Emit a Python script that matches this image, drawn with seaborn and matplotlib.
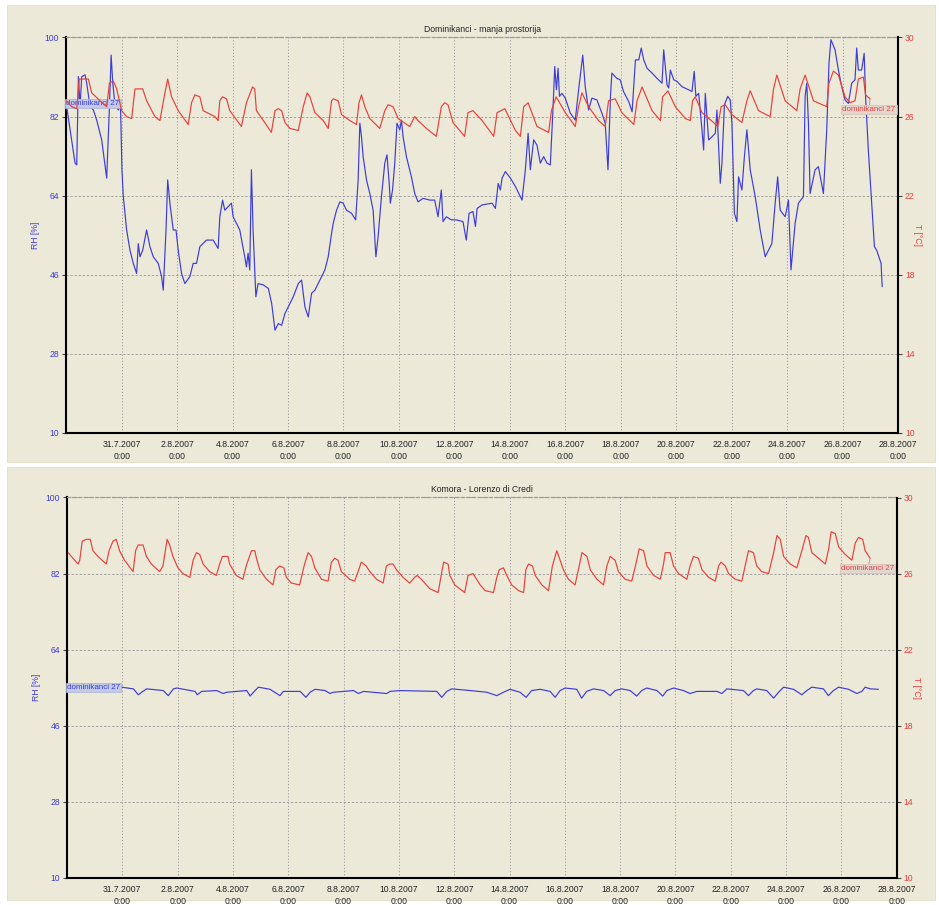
import pandas as pd
import matplotlib
matplotlib.use("Agg")
import matplotlib.pyplot as plt
from matplotlib.patches import Rectangle
import seaborn as sns

# ---------------------------------------------------------------------------
# Logger data: time in days since 29.7.2007 0:00, RH in %, T in degC
# ---------------------------------------------------------------------------
START = pd.Timestamp("2007-07-29")
END = pd.Timestamp("2007-08-28")

# Dominikanci - manja prostorija
top_rh_day = [
    0.00, 0.14, 0.32, 0.38, 0.44, 0.50, 0.56, 0.68, 0.74, 0.86,
    0.98, 1.10, 1.28, 1.46, 1.56, 1.62, 1.68, 1.76, 1.88, 1.96,
    2.01, 2.06, 2.18, 2.30, 2.42, 2.54, 2.60, 2.66, 2.76, 2.90,
    3.02, 3.14, 3.32, 3.44, 3.50, 3.60, 3.66, 3.74, 3.86, 3.96,
    4.04, 4.16, 4.28, 4.46, 4.58, 4.70, 4.82, 5.06, 5.30, 5.48,
    5.54, 5.64, 5.72, 5.84, 5.96, 6.02, 6.14, 6.26, 6.44, 6.50,
    6.56, 6.62, 6.68, 6.74, 6.84, 6.92, 7.11, 7.29, 7.41, 7.53,
    7.65, 7.77, 7.89, 8.07, 8.19, 8.37, 8.49, 8.61, 8.73, 8.85,
    8.97, 9.15, 9.33, 9.45, 9.57, 9.63, 9.75, 9.87, 9.99, 10.11,
    10.29, 10.44, 10.53, 10.59, 10.65, 10.71, 10.83, 10.95, 11.07, 11.17,
    11.25, 11.37, 11.49, 11.57, 11.65, 11.69, 11.77, 11.85, 11.93, 12.03,
    12.09, 12.15, 12.27, 12.45, 12.57, 12.69, 12.87, 13.11, 13.29, 13.41,
    13.53, 13.59, 13.71, 13.89, 14.07, 14.31, 14.43, 14.53, 14.67, 14.76,
    14.82, 15.00, 15.36, 15.48, 15.58, 15.66, 15.72, 15.84, 16.02, 16.20,
    16.44, 16.56, 16.66, 16.74, 16.86, 16.98, 17.10, 17.22, 17.34, 17.46,
    17.55, 17.62, 17.68, 17.74, 17.79, 17.88, 18.00, 18.18, 18.36, 18.48,
    18.63, 18.72, 18.84, 18.96, 19.14, 19.32, 19.44, 19.54, 19.63, 19.68,
    19.86, 19.98, 20.10, 20.29, 20.41, 20.53, 20.65, 20.74, 20.83, 20.95,
    21.13, 21.31, 21.49, 21.55, 21.67, 21.73, 21.79, 21.91, 22.03, 22.21,
    22.45, 22.57, 22.65, 22.71, 22.81, 22.93, 22.99, 23.05, 23.17, 23.29,
    23.41, 23.47, 23.59, 23.65, 23.74, 23.86, 23.95, 24.01, 24.10, 24.19,
    24.25, 24.37, 24.46, 24.55, 24.67, 24.85, 25.03, 25.21, 25.33, 25.45,
    25.57, 25.66, 25.75, 25.93, 26.05, 26.14, 26.29, 26.41, 26.59, 26.65,
    26.71, 26.77, 26.83, 27.01, 27.13, 27.31, 27.43, 27.51, 27.58, 27.73,
    27.85, 27.97, 28.09, 28.21, 28.33, 28.45, 28.51, 28.57, 28.69, 28.78,
    28.83, 28.93, 29.05, 29.15, 29.23, 29.31, 29.39, 29.43,
]
top_rh = [
    85.0, 79.0, 71.4, 71.0, 91.1, 84.3, 91.1, 91.5, 89.6, 84.3,
    83.5, 81.2, 76.7, 68.0, 84.3, 96.0, 89.6, 84.7, 83.5, 84.3,
    69.9, 63.8, 56.2, 51.6, 48.6, 46.3, 53.1, 50.1, 51.6, 56.2,
    52.4, 50.1, 48.6, 45.6, 42.5, 56.2, 67.6, 62.3, 56.2, 56.2,
    51.6, 46.3, 44.0, 45.6, 48.6, 48.6, 52.4, 53.9, 53.9, 52.0,
    59.2, 63.0, 60.7, 61.5, 62.3, 59.2, 57.7, 56.2, 50.1, 47.8,
    50.9, 47.1, 69.9, 56.2, 41.0, 44.0, 43.7, 42.9, 39.5, 33.4,
    34.9, 34.5, 37.2, 39.5, 41.0, 44.0, 44.8, 38.7, 36.4, 41.8,
    42.5, 44.8, 47.1, 50.1, 55.4, 57.7, 60.7, 62.6, 62.3, 60.7,
    60.0, 58.5, 67.6, 80.5, 77.4, 72.9, 67.6, 64.5, 60.7, 50.1,
    54.7, 63.8, 71.4, 73.3, 66.8, 62.3, 65.3, 71.4, 80.5, 79.0,
    81.2, 77.4, 72.9, 68.3, 64.5, 62.6, 63.4, 63.0, 63.0, 59.2,
    65.3, 58.1, 59.2, 58.5, 58.5, 58.1, 53.9, 60.0, 60.4, 57.0,
    61.1, 61.9, 62.3, 61.1, 66.8, 65.3, 68.0, 69.5, 68.0, 66.1,
    63.0, 69.9, 78.2, 69.9, 76.7, 75.5, 71.4, 72.9, 71.4, 71.0,
    82.8, 93.4, 88.1, 93.0, 86.6, 87.3, 86.2, 82.8, 81.2, 88.1,
    96.0, 88.8, 83.5, 86.2, 85.8, 82.8, 80.5, 69.9, 86.6, 91.9,
    90.7, 90.4, 87.7, 85.4, 83.1, 94.9, 94.9, 97.6, 94.9, 93.0,
    91.9, 90.7, 89.6, 97.2, 89.2, 88.5, 92.6, 90.4, 90.0, 88.8,
    88.1, 87.7, 92.3, 86.6, 87.3, 79.0, 74.4, 87.3, 76.7, 77.4,
    78.2, 83.5, 66.8, 71.4, 84.7, 86.6, 85.8, 80.5, 60.0, 58.1,
    68.3, 65.3, 72.9, 79.0, 69.9, 63.8, 56.2, 50.1, 51.6, 53.1,
    62.3, 68.3, 60.7, 59.2, 63.0, 47.1, 57.7, 62.3, 63.8, 86.6,
    89.6, 80.5, 64.5, 69.9, 70.6, 64.5, 79.0, 94.1, 99.5, 97.2,
    92.6, 88.8, 85.8, 85.0, 89.6, 90.4, 97.6, 92.6, 92.6, 96.4,
    86.6, 74.4, 62.3, 52.4, 51.6, 50.1, 48.6, 43.3,
]
top_t_day = [
    0.00, 0.20, 0.38, 0.47, 0.62, 0.80, 0.92, 1.22, 1.46, 1.56,
    1.70, 1.82, 2.00, 2.18, 2.36, 2.48, 2.76, 2.90, 3.20, 3.38,
    3.56, 3.66, 3.80, 4.04, 4.40, 4.52, 4.64, 4.82, 4.94, 5.36,
    5.48, 5.54, 5.64, 5.78, 5.90, 6.32, 6.50, 6.72, 6.80, 6.86,
    7.16, 7.40, 7.53, 7.65, 7.77, 7.89, 8.07, 8.37, 8.55, 8.69,
    8.79, 8.97, 9.27, 9.45, 9.57, 9.63, 9.81, 9.93, 10.23, 10.47,
    10.56, 10.65, 10.77, 10.95, 11.31, 11.49, 11.61, 11.79, 11.97, 12.39,
    12.57, 12.69, 12.99, 13.35, 13.53, 13.65, 13.77, 13.95, 14.19, 14.37,
    14.49, 14.67, 15.00, 15.42, 15.54, 15.82, 16.20, 16.38, 16.50, 16.66,
    16.98, 17.40, 17.50, 17.67, 18.00, 18.36, 18.48, 18.60, 18.84, 19.20,
    19.44, 19.56, 19.80, 20.04, 20.47, 20.59, 20.77, 21.13, 21.43, 21.51,
    21.70, 21.97, 22.33, 22.51, 22.59, 22.69, 22.93, 23.35, 23.50, 23.62,
    23.77, 24.01, 24.37, 24.55, 24.67, 24.97, 25.39, 25.51, 25.63, 25.93,
    26.35, 26.47, 26.65, 26.95, 27.43, 27.51, 27.67, 27.85, 28.09, 28.27,
    28.45, 28.57, 28.75, 28.83, 28.99,
]
top_t = [
    26.8, 26.5, 26.4, 27.9, 27.9, 27.9, 27.2, 26.8, 26.5, 27.7,
    27.8, 27.4, 26.3, 26.0, 25.9, 27.4, 27.4, 26.8, 26.0, 25.8,
    27.2, 27.9, 27.0, 26.3, 25.6, 26.7, 27.1, 27.0, 26.3, 26.0,
    25.8, 26.8, 27.0, 26.9, 26.3, 25.5, 26.7, 27.5, 27.4, 26.3,
    25.7, 25.2, 26.3, 26.4, 26.3, 25.7, 25.4, 25.3, 26.5, 27.2,
    27.0, 26.2, 25.8, 25.4, 26.8, 26.9, 26.8, 26.1, 25.8, 25.6,
    26.7, 27.1, 26.5, 25.9, 25.4, 26.3, 26.6, 26.5, 25.9, 25.5,
    26.0, 25.8, 25.4, 25.0, 26.5, 26.7, 26.6, 25.7, 25.3, 25.0,
    26.2, 26.3, 25.8, 25.0, 26.2, 26.4, 25.3, 25.0, 26.5, 26.7,
    25.5, 25.2, 26.3, 27.0, 26.2, 25.5, 26.5, 27.2, 26.5, 25.8,
    25.5, 26.8, 26.9, 26.2, 25.6, 26.8, 27.5, 26.3, 25.8, 27.0,
    27.3, 26.5, 25.9, 25.8, 26.8, 27.0, 26.2, 25.7, 25.5, 26.5,
    26.6, 26.1, 25.7, 26.8, 27.3, 26.3, 26.0, 27.4, 28.1, 26.8,
    26.3, 27.4, 28.1, 26.8, 26.5, 27.7, 28.3, 28.1, 27.0, 26.7,
    26.8, 27.9, 28.0, 27.1, 26.9,
]

# Komora - Lorenzo di Credi
bot_rh_day = [
    0.00, 1.98, 2.40, 2.58, 2.70, 2.88, 3.48, 3.66, 3.85, 3.97,
    4.63, 4.71, 4.87, 5.41, 5.65, 5.77, 6.50, 6.62, 6.80, 6.92,
    7.34, 7.70, 7.82, 8.43, 8.64, 8.79, 8.97, 9.33, 9.51, 9.63,
    10.36, 10.54, 10.72, 11.56, 11.68, 12.04, 13.37, 13.55, 13.73, 13.91,
    14.58, 15.18, 15.54, 15.78, 16.02, 16.38, 16.60, 16.80, 17.11, 17.47,
    17.65, 17.83, 18.01, 18.43, 18.61, 18.79, 19.04, 19.40, 19.64, 19.82,
    20.06, 20.36, 20.60, 20.78, 20.96, 21.33, 21.54, 21.69, 21.93, 22.29,
    22.53, 22.77, 23.50, 23.68, 23.86, 24.46, 24.64, 24.82, 24.94, 25.30,
    25.55, 25.73, 25.91, 26.27, 26.57, 26.75, 26.93, 27.35, 27.53, 27.71,
    27.90, 28.26, 28.56, 28.74, 28.86, 29.04, 29.34,
]
bot_rh = [
    55.0, 55.1, 54.7, 53.3, 53.9, 54.7, 54.3, 53.1, 54.7, 54.9,
    54.1, 53.3, 54.1, 54.3, 53.6, 53.9, 54.3, 53.0, 54.3, 55.1,
    54.6, 53.1, 54.1, 54.1, 52.7, 53.9, 54.6, 54.3, 53.6, 53.9,
    54.3, 53.6, 54.1, 53.6, 54.1, 54.3, 54.1, 52.7, 54.1, 54.7,
    54.3, 53.9, 53.1, 53.9, 54.6, 53.9, 52.7, 54.3, 54.6, 54.1,
    52.7, 54.3, 54.9, 54.6, 52.5, 54.1, 54.7, 54.3, 53.1, 54.3,
    54.7, 54.3, 53.0, 54.3, 54.9, 54.3, 53.0, 54.3, 54.9, 54.3,
    53.6, 54.1, 54.1, 53.6, 54.7, 54.3, 53.1, 54.3, 54.7, 54.3,
    52.5, 53.9, 55.1, 54.6, 53.3, 54.3, 55.1, 54.7, 53.1, 54.3,
    55.1, 54.6, 53.6, 54.1, 55.1, 54.7, 54.6,
]
bot_t_day = [
    0.04, 0.22, 0.40, 0.46, 0.55, 0.70, 0.84, 0.94, 1.12, 1.42,
    1.52, 1.66, 1.78, 1.90, 2.08, 2.39, 2.48, 2.57, 2.75, 2.87,
    3.05, 3.35, 3.47, 3.62, 3.71, 3.83, 4.01, 4.19, 4.44, 4.56,
    4.68, 4.80, 4.92, 5.16, 5.40, 5.52, 5.62, 5.82, 5.88, 6.12,
    6.36, 6.48, 6.67, 6.79, 6.85, 6.97, 7.21, 7.45, 7.55, 7.69,
    7.84, 7.93, 8.11, 8.41, 8.59, 8.72, 8.84, 8.96, 9.20, 9.44,
    9.56, 9.68, 9.80, 9.92, 10.22, 10.40, 10.55, 10.64, 10.82, 10.95,
    11.19, 11.43, 11.55, 11.67, 11.79, 11.91, 12.15, 12.39, 12.57, 12.66,
    12.81, 13.12, 13.42, 13.54, 13.62, 13.78, 13.84, 14.02, 14.20, 14.38,
    14.50, 14.68, 14.94, 15.12, 15.42, 15.54, 15.63, 15.78, 15.90, 16.08,
    16.33, 16.51, 16.59, 16.69, 16.83, 16.93, 17.17, 17.41, 17.55, 17.71,
    17.83, 17.95, 18.13, 18.37, 18.52, 18.62, 18.80, 18.92, 19.16, 19.40,
    19.52, 19.64, 19.82, 19.94, 20.18, 20.42, 20.57, 20.69, 20.85, 20.97,
    21.21, 21.45, 21.57, 21.63, 21.81, 21.93, 22.11, 22.41, 22.53, 22.65,
    22.83, 22.96, 23.20, 23.44, 23.56, 23.65, 23.80, 23.92, 24.16, 24.40,
    24.52, 24.64, 24.82, 24.94, 25.12, 25.37, 25.55, 25.67, 25.79, 25.91,
    26.15, 26.39, 26.57, 26.72, 26.81, 26.93, 27.18, 27.42, 27.54, 27.63,
    27.78, 27.90, 28.14, 28.38, 28.50, 28.62, 28.77, 28.86, 29.04,
]
bot_t = [
    27.1, 26.8, 26.5, 26.7, 27.7, 27.8, 27.8, 27.2, 26.9, 26.5,
    27.2, 27.7, 27.8, 27.2, 26.7, 26.1, 27.2, 27.5, 27.5, 26.9,
    26.5, 26.1, 26.4, 27.8, 27.5, 26.9, 26.3, 26.0, 25.8, 26.7,
    27.1, 27.0, 26.5, 26.1, 25.9, 26.5, 26.9, 26.9, 26.5, 25.9,
    25.7, 26.4, 27.2, 27.2, 26.8, 26.2, 25.7, 25.4, 26.2, 26.4,
    26.3, 25.8, 25.5, 25.4, 26.5, 27.1, 26.9, 26.3, 25.7, 25.6,
    26.6, 26.8, 26.7, 26.1, 25.7, 25.6, 26.2, 26.6, 26.4, 26.1,
    25.7, 25.5, 26.4, 26.5, 26.5, 26.2, 25.8, 25.5, 25.8, 25.9,
    25.7, 25.2, 25.0, 26.0, 26.6, 26.5, 25.9, 25.4, 25.2, 25.0,
    25.9, 26.0, 25.4, 25.1, 25.0, 25.8, 26.2, 26.3, 25.9, 25.4,
    25.1, 25.0, 26.2, 26.5, 26.4, 25.9, 25.4, 25.1, 26.4, 27.2,
    26.7, 26.2, 25.7, 25.4, 26.4, 27.1, 26.9, 26.2, 25.7, 25.4,
    26.4, 26.9, 26.7, 26.1, 25.7, 25.6, 26.5, 27.3, 27.2, 26.4,
    25.9, 25.7, 26.5, 27.1, 27.1, 26.4, 26.0, 25.7, 26.4, 26.9,
    26.8, 26.2, 25.8, 25.6, 26.4, 26.6, 26.4, 26.0, 25.7, 25.6,
    26.4, 27.2, 27.1, 26.4, 26.1, 26.0, 27.1, 28.0, 27.8, 26.9,
    26.5, 26.3, 27.2, 28.0, 27.9, 27.1, 26.8, 26.5, 27.3, 28.2,
    28.1, 27.4, 27.0, 26.7, 27.6, 27.9, 27.8, 27.2, 26.8,
]

panel_titles = ["Dominikanci - manja prostorija", "Komora - Lorenzo di Credi"]
sensor_name = "dominikanci 27"
rh_ticks = [10, 28, 46, 64, 82, 100]
t_ticks = [10, 14, 18, 22, 26, 30]
x_tick_dates = ["2007-07-31", "2007-08-02", "2007-08-04", "2007-08-06",
                "2007-08-08", "2007-08-10", "2007-08-12", "2007-08-14",
                "2007-08-16", "2007-08-18", "2007-08-20", "2007-08-22",
                "2007-08-24", "2007-08-26", "2007-08-28"]

# ---------------------------------------------------------------------------
sns.set_theme(style="white")
plt.rcParams["font.family"] = ["Liberation Sans", "DejaVu Sans"]

BG = "#ECE9D8"
BLUE = "#3C3CD6"
RED = "#E8403A"
GRID = "#9C9C9C"
FS = 6.2

W, H = 939, 905
fig = plt.figure(figsize=(W / 100, H / 100), dpi=100, facecolor="white")


def fx(px):
    return px / W


def fy(py):
    return 1 - py / H


def frame(x0, y0, x1, y1):
    fig.patches.append(Rectangle((fx(x0), fy(y1)), fx(x1) - fx(x0), fy(y0) - fy(y1),
                                 transform=fig.transFigure, facecolor=BG,
                                 edgecolor="#E2DDC4", lw=0.6, zorder=-10))


frame(7, 5, 935, 462)
frame(7, 467, 935, 900)

tick_times = pd.to_datetime(x_tick_dates)
tick_labels = [f"{d.day}.{d.month}.{d.year}\n{d.hour}:{d.minute:02d}" for d in tick_times]


def draw_panel(box, title, rh_day, rh, t_day, t):
    left, top, right, bottom = box
    ax = fig.add_axes([fx(left), fy(bottom), fx(right) - fx(left), fy(top) - fy(bottom)])
    ax.set_facecolor("none")

    rh_df = pd.DataFrame({"time": START + pd.to_timedelta(rh_day, unit="D"), "RH": rh})
    t_df = pd.DataFrame({"time": START + pd.to_timedelta(t_day, unit="D"), "T": t})

    sns.lineplot(data=rh_df, x="time", y="RH", ax=ax, color=BLUE, lw=0.85, zorder=3)
    ax2 = ax.twinx()
    sns.lineplot(data=t_df, x="time", y="T", ax=ax2, color=RED, lw=0.85, zorder=3)

    ax.set_xlim(START, END)
    ax.set_ylim(10, 100)
    ax2.set_ylim(10, 30)
    ax.set_yticks(rh_ticks)
    ax2.set_yticks(t_ticks)
    ax.set_xticks(tick_times)
    ax.set_xticklabels(tick_labels, fontsize=FS, color="#222222", linespacing=1.45)
    ax.set_yticklabels([str(v) for v in rh_ticks], fontsize=FS, color=BLUE)
    ax2.set_yticklabels([str(v) for v in t_ticks], fontsize=FS, color=RED)

    ax.grid(True, axis="y", color=GRID, linestyle=(0, (2.5, 2)), lw=0.65)
    ax.grid(True, axis="x", color=GRID, linestyle=(0, (1.2, 2)), lw=0.7)
    ax2.grid(False)
    ax.set_axisbelow(True)

    ax.tick_params(axis="x", length=3, width=0.8, color="#444444", pad=2, direction="out")
    ax.tick_params(axis="y", length=3, width=0.8, color="#444444", pad=2, direction="out")
    ax2.tick_params(axis="y", length=3, width=0.8, color="#444444", pad=2, direction="out")

    for side in ("left", "bottom"):
        ax.spines[side].set_color("black")
        ax.spines[side].set_linewidth(1.5)
    ax.spines["right"].set_visible(False)
    ax.spines["top"].set_color(GRID)
    ax.spines["top"].set_linestyle((0, (2.5, 2)))
    ax.spines["top"].set_linewidth(0.9)
    for side in ("left", "bottom", "top"):
        ax2.spines[side].set_visible(False)
    ax2.spines["right"].set_color("black")
    ax2.spines["right"].set_linewidth(1.5)

    ax.set_xlabel("")
    ax.set_ylabel("RH [%]", fontsize=FS, color=BLUE)
    ax.yaxis.set_label_coords(-0.031, 0.5)
    ax2.set_ylabel("T [°C]", fontsize=FS, color=RED, rotation=270, va="center")
    ax2.yaxis.set_label_coords(1.024, 0.5)
    ax.set_title(title, fontsize=FS, color="#222222", pad=4)

    # series name tags at the start of the RH trace and the end of the T trace
    ax.text(START, rh[0], sensor_name, fontsize=FS - 0.4, color=BLUE,
            ha="left", va="center", zorder=5,
            bbox=dict(boxstyle="square,pad=0.15", facecolor="#C3CAE6",
                      edgecolor="#A9B1D6", lw=0.5))
    end_time = START + pd.Timedelta(days=t_day[-1])
    ax2.annotate(sensor_name, xy=(end_time, t[-1]),
                 xytext=(0.997, (t[-1] - 0.55 - 10) / 20), textcoords="axes fraction",
                 fontsize=FS - 0.4, color=RED, ha="right", va="center", zorder=5,
                 bbox=dict(boxstyle="square,pad=0.15", facecolor="#E3D6CF",
                           edgecolor="#D2BEB6", lw=0.5),
                 arrowprops=dict(arrowstyle="-", color="#D08080", lw=0.6,
                                 shrinkA=0, shrinkB=0))


draw_panel((66.2, 37.5, 898.0, 433.0), panel_titles[0], top_rh_day, top_rh, top_t_day, top_t)
draw_panel((67.0, 497.5, 896.7, 877.7), panel_titles[1], bot_rh_day, bot_rh, bot_t_day, bot_t)

fig.savefig("out.png", dpi=100, facecolor="white")
